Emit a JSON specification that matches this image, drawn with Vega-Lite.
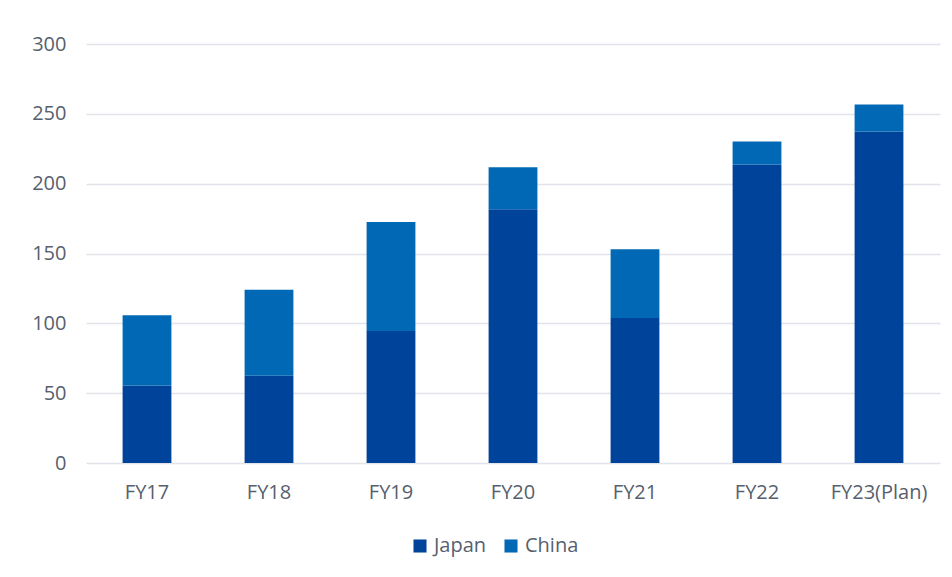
{
  "$schema": "https://vega.github.io/schema/vega-lite/v6.json",
  "width": 854,
  "height": 419,
  "autosize": "none",
  "padding": {"left": 86, "top": 44, "right": 12, "bottom": 114},
  "background": "white",
  "config": {
    "view": {"stroke": null},
    "font": "Open Sans"
  },
  "data": {
    "values": [
      {"year": "FY17", "region": "Japan", "value": 55.4},
      {"year": "FY17", "region": "China", "value": 50.4},
      {"year": "FY18", "region": "Japan", "value": 62.5},
      {"year": "FY18", "region": "China", "value": 61.5},
      {"year": "FY19", "region": "Japan", "value": 94.6},
      {"year": "FY19", "region": "China", "value": 78.0},
      {"year": "FY20", "region": "Japan", "value": 181.7},
      {"year": "FY20", "region": "China", "value": 30.1},
      {"year": "FY21", "region": "Japan", "value": 103.9},
      {"year": "FY21", "region": "China", "value": 49.1},
      {"year": "FY22", "region": "Japan", "value": 213.7},
      {"year": "FY22", "region": "China", "value": 16.5},
      {"year": "FY23(Plan)", "region": "Japan", "value": 237.3},
      {"year": "FY23(Plan)", "region": "China", "value": 19.4}
    ]
  },
  "mark": {"type": "bar"},
  "encoding": {
    "x": {
      "field": "year",
      "type": "nominal",
      "sort": null,
      "scale": {"paddingInner": 0.6, "paddingOuter": 0.3},
      "axis": {
        "title": null,
        "labelAngle": 0,
        "labelFontSize": 20,
        "labelColor": "#575f6e",
        "labelPadding": 19,
        "ticks": false,
        "domain": false
      }
    },
    "y": {
      "field": "value",
      "type": "quantitative",
      "stack": "zero",
      "scale": {"domain": [0, 300], "nice": false},
      "axis": {
        "title": null,
        "values": [0, 50, 100, 150, 200, 250, 300],
        "labelFontSize": 20,
        "labelColor": "#575f6e",
        "labelPadding": 20,
        "ticks": false,
        "domain": false,
        "gridColor": "#e1e4ea",
        "gridWidth": 1.5
      }
    },
    "color": {
      "field": "region",
      "type": "nominal",
      "scale": {"domain": ["Japan", "China"], "range": ["#00439A", "#0068B4"]},
      "legend": {
        "title": null,
        "orient": "none",
        "direction": "horizontal",
        "legendX": 324,
        "legendY": 492,
        "symbolType": "square",
        "symbolSize": 170,
        "symbolStrokeWidth": 0,
        "labelFontSize": 20,
        "labelColor": "#575f6e",
        "labelOffset": 4,
        "columnPadding": 14
      }
    },
    "order": {"field": "region", "sort": "descending"}
  }
}
